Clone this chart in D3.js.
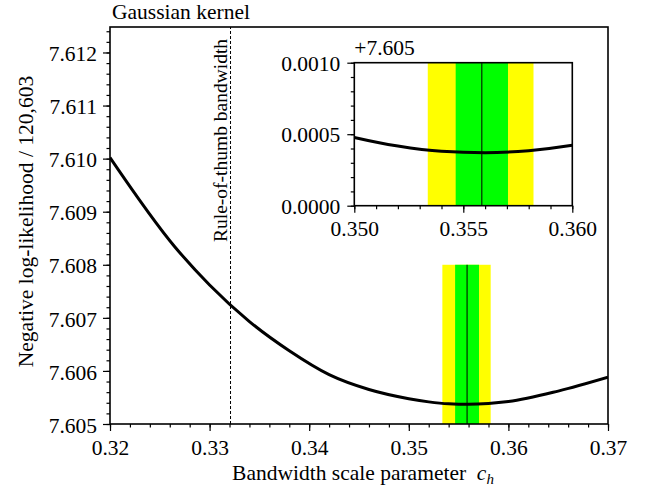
<!DOCTYPE html>
<html>
<head>
<meta charset="utf-8">
<script src="https://cdn.jsdelivr.net/npm/d3@7"></script>
<style>
  html, body { margin: 0; padding: 0; background: #fff; }
  svg { display: block; }
</style>
</head>
<body>
<svg id="chart" width="651" height="490"></svg>
<script>
// Bandwidth scale parameter c_h and the negative log-likelihood / 120,603
const cValues   = [0.320, 0.3265, 0.330, 0.334, 0.338, 0.342, 0.346, 0.350, 0.352, 0.354, 0.356, 0.358, 0.360, 0.365, 0.370];
const nllValues = [7.61002, 7.60834, 7.60762, 7.60693, 7.60638, 7.60593, 7.60565, 7.605477, 7.605417, 7.605380, 7.605370, 7.605385, 7.605422, 7.60562, 7.60588];

// Optimum and its uncertainty intervals
const optimumC     = 0.35585;
const innerBand    = [0.35465, 0.35705];
const outerBand    = [0.35337, 0.35822];
const bandTop      = 7.608;
const ruleOfThumbC = 0.3321;

// Tick values
const mainXTicks  = [0.32, 0.33, 0.34, 0.35, 0.36, 0.37];
const mainYTicks  = [7.605, 7.606, 7.607, 7.608, 7.609, 7.610, 7.611, 7.612];
const insetXTicks = [0.350, 0.355, 0.360];
const insetYTicks = [0.0000, 0.0005, 0.0010];
const insetOffset = 7.605;

const titleText  = "Gaussian kernel";
const yLabelText = "Negative log-likelihood / 120,603";
const xLabelText = "Bandwidth scale parameter";
const ruleText   = "Rule-of-thumb bandwidth";

const data = cValues.map((c, i) => ({ c, v: nllValues[i] }));

const FONT = "'Liberation Serif', Tinos, 'Times New Roman', Times, 'Nimbus Roman', 'DejaVu Serif', serif";
const FS = 21.5;

const svg = d3.select("#chart")
  .attr("font-family", FONT)
  .style("font-family", FONT);

// ---------- main panel ----------
const M = { left: 110, right: 608, top: 27, bottom: 424 };
const x = d3.scaleLinear().domain([0.32, 0.37]).range([M.left, M.right]);
const y = d3.scaleLinear().domain([7.605, 7.61248]).range([M.bottom, M.top]);

const range = (a, b, s) => d3.range(Math.round((b - a) / s) + 1).map(i => +(a + i * s).toFixed(6));

function txt(sel, size) {
  return sel.append("text")
    .style("font-family", FONT)
    .style("font-size", size + "px")
    .attr("fill", "#000");
}

const defs = svg.append("defs");
defs.append("clipPath").attr("id", "mainClip")
  .append("rect").attr("x", M.left).attr("y", M.top)
  .attr("width", M.right - M.left).attr("height", M.bottom - M.top);

const main = svg.append("g");

// uncertainty bands around the optimum
main.append("rect")
  .attr("x", x(outerBand[0])).attr("width", x(outerBand[1]) - x(outerBand[0]))
  .attr("y", y(bandTop)).attr("height", y(7.605) - y(bandTop))
  .attr("fill", "#ffff00");
main.append("rect")
  .attr("x", x(innerBand[0])).attr("width", x(innerBand[1]) - x(innerBand[0]))
  .attr("y", y(bandTop)).attr("height", y(7.605) - y(bandTop))
  .attr("fill", "#00ff00");
main.append("line")
  .attr("x1", x(optimumC)).attr("x2", x(optimumC))
  .attr("y1", y(7.605)).attr("y2", y(bandTop))
  .attr("stroke", "#000").attr("stroke-width", 1);

// rule-of-thumb marker
main.append("line")
  .attr("x1", x(ruleOfThumbC)).attr("x2", x(ruleOfThumbC))
  .attr("y1", M.bottom).attr("y2", M.top)
  .attr("stroke", "#000").attr("stroke-width", 1)
  .attr("stroke-dasharray", "3,2");
txt(main, 19.5)
  .attr("transform", `translate(${x(ruleOfThumbC) - 4},242) rotate(-90)`)
  .attr("text-anchor", "start")
  .text(ruleText);

// likelihood curve
const line = d3.line().x(d => x(d.c)).y(d => y(d.v)).curve(d3.curveMonotoneX);
main.append("path").datum(data)
  .attr("clip-path", "url(#mainClip)")
  .attr("d", line).attr("fill", "none")
  .attr("stroke", "#000").attr("stroke-width", 3);

// frame
main.append("rect")
  .attr("x", M.left).attr("y", M.top)
  .attr("width", M.right - M.left).attr("height", M.bottom - M.top)
  .attr("fill", "none").attr("stroke", "#000").attr("stroke-width", 1.6);

function styleAxis(g) {
  g.attr("font-family", FONT).attr("font-size", FS);
  g.select(".domain").remove();
  g.selectAll("line").attr("stroke", "#000").attr("stroke-width", 1.2);
  g.selectAll("text")
    .style("font-family", FONT)
    .style("font-size", FS + "px")
    .attr("fill", "#000");
}

// main axes: minor then major ticks
main.append("g").attr("transform", `translate(0,${M.bottom})`)
  .call(d3.axisBottom(x).tickValues(range(0.32, 0.37, 0.002)).tickSize(3.5).tickFormat(""))
  .call(styleAxis);
main.append("g").attr("transform", `translate(0,${M.bottom})`)
  .call(d3.axisBottom(x).tickValues(mainXTicks).tickSize(7).tickPadding(9).tickFormat(d3.format(".2f")))
  .call(styleAxis);

main.append("g").attr("transform", `translate(${M.left},0)`)
  .call(d3.axisLeft(y).tickValues(range(7.605, 7.6124, 0.0002)).tickSize(3.5).tickFormat(""))
  .call(styleAxis);
main.append("g").attr("transform", `translate(${M.left},0)`)
  .call(d3.axisLeft(y).tickValues(mainYTicks).tickSize(7).tickPadding(6).tickFormat(d3.format(".3f")))
  .call(styleAxis)
  .selectAll("text").attr("dy", "0.38em");

// titles
txt(svg, FS).attr("x", 112).attr("y", 19).text(titleText);

txt(svg, FS)
  .attr("transform", `translate(33,${(M.top + M.bottom) / 2 - 4}) rotate(-90)`)
  .attr("text-anchor", "middle")
  .text(yLabelText);

const xl = txt(svg, FS)
  .attr("x", (M.left + M.right) / 2 + 4).attr("y", 480)
  .attr("text-anchor", "middle");
xl.append("tspan").text(xLabelText + "\u2002");
xl.append("tspan").style("font-style", "italic").text("c");
xl.append("tspan").style("font-style", "italic").style("font-size", "15px")
  .attr("dy", 4).text("h");

// ---------- inset: zoom on the minimum ----------
const I = { left: 354.3, right: 572.3, top: 62.7, bottom: 205.7 };
const xi = d3.scaleLinear().domain([0.350, 0.360]).range([I.left, I.right]);
const yi = d3.scaleLinear().domain([insetOffset + 0, insetOffset + 0.001]).range([I.bottom, I.top]);

defs.append("clipPath").attr("id", "insetClip")
  .append("rect").attr("x", I.left).attr("y", I.top)
  .attr("width", I.right - I.left).attr("height", I.bottom - I.top);

const inset = svg.append("g");
inset.append("rect").attr("x", I.left).attr("y", I.top)
  .attr("width", I.right - I.left).attr("height", I.bottom - I.top)
  .attr("fill", "#fff");
inset.append("rect")
  .attr("x", xi(outerBand[0])).attr("width", xi(outerBand[1]) - xi(outerBand[0]))
  .attr("y", I.top).attr("height", I.bottom - I.top).attr("fill", "#ffff00");
inset.append("rect")
  .attr("x", xi(innerBand[0])).attr("width", xi(innerBand[1]) - xi(innerBand[0]))
  .attr("y", I.top).attr("height", I.bottom - I.top).attr("fill", "#00ff00");
inset.append("line")
  .attr("x1", xi(optimumC)).attr("x2", xi(optimumC))
  .attr("y1", I.top).attr("y2", I.bottom)
  .attr("stroke", "#000").attr("stroke-width", 1);

const lineI = d3.line().x(d => xi(d.c)).y(d => yi(d.v)).curve(d3.curveMonotoneX);
inset.append("path").datum(data)
  .attr("clip-path", "url(#insetClip)")
  .attr("d", lineI).attr("fill", "none")
  .attr("stroke", "#000").attr("stroke-width", 3);

inset.append("rect").attr("x", I.left).attr("y", I.top)
  .attr("width", I.right - I.left).attr("height", I.bottom - I.top)
  .attr("fill", "none").attr("stroke", "#000").attr("stroke-width", 1.6);

inset.append("g").attr("transform", `translate(0,${I.bottom})`)
  .call(d3.axisBottom(xi).tickValues(range(0.350, 0.360, 0.001)).tickSize(3.5).tickFormat(""))
  .call(styleAxis);
inset.append("g").attr("transform", `translate(0,${I.bottom})`)
  .call(d3.axisBottom(xi).tickValues(insetXTicks).tickSize(7).tickPadding(8.5).tickFormat(d3.format(".3f")))
  .call(styleAxis);

inset.append("g").attr("transform", `translate(${I.left},0)`)
  .call(d3.axisLeft(yi).tickValues(range(0, 0.001, 0.0001).map(v => insetOffset + v)).tickSize(3.5).tickFormat(""))
  .call(styleAxis);
inset.append("g").attr("transform", `translate(${I.left},0)`)
  .call(d3.axisLeft(yi).tickValues(insetYTicks.map(v => insetOffset + v)).tickSize(7).tickPadding(7)
    .tickFormat(v => (v - insetOffset).toFixed(4)))
  .call(styleAxis)
  .selectAll("text").attr("dy", "0.35em");

txt(inset, FS).attr("x", I.left).attr("y", 55).text("+" + insetOffset.toFixed(3));
</script>
</body>
</html>
